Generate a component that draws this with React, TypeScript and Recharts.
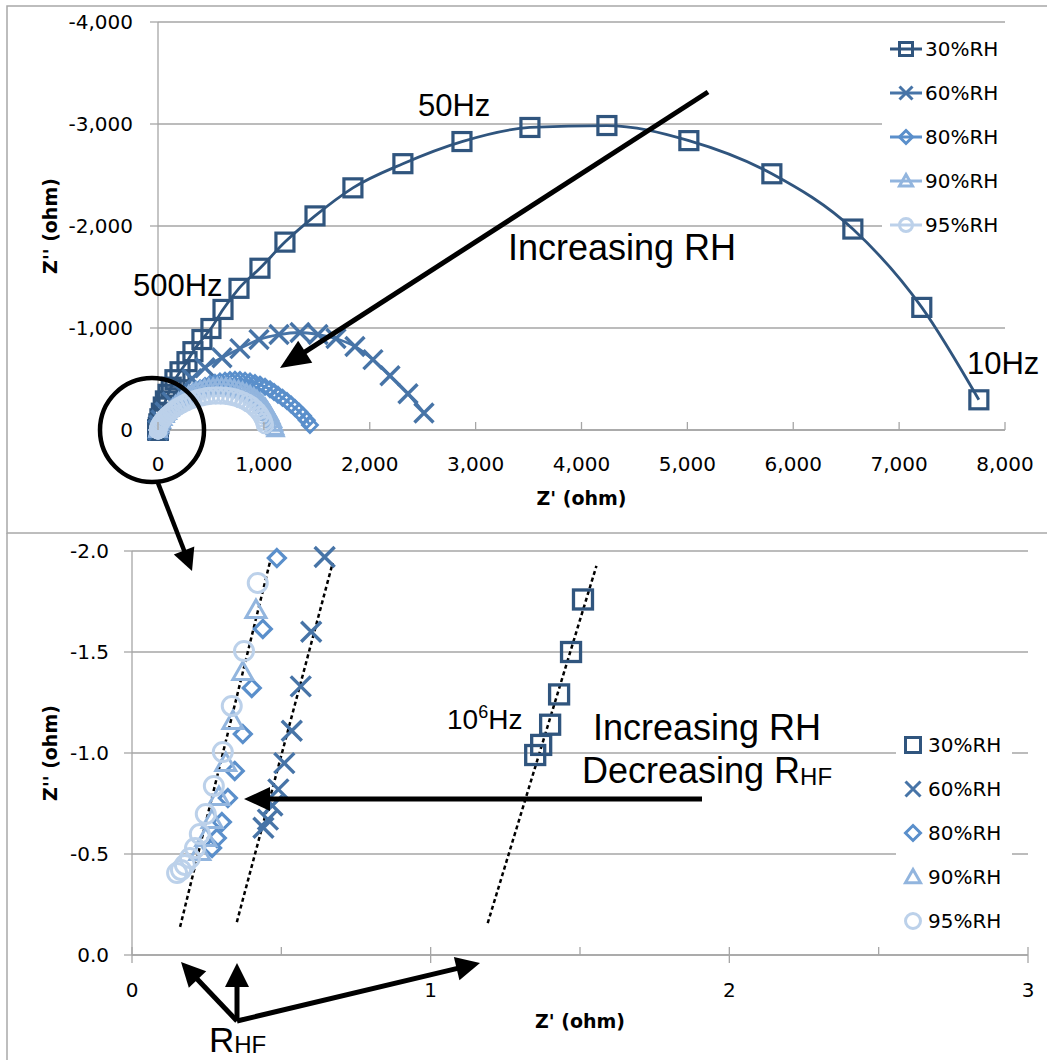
import React from "react";
import {
  ComposedChart,
  ScatterChart,
  Line,
  Scatter,
  XAxis,
  YAxis,
  CartesianGrid,
  ReferenceLine,
  Legend,
} from "recharts";

const AXIS_FONT = "'DejaVu Sans', Verdana, sans-serif";
const NOTE_FONT = "'Liberation Sans', Arial, sans-serif";
const GRID = "#a6a6a6";

// series (Z', Z'') in ohm, high frequency first
const seriesNames = ["30%RH", "60%RH", "80%RH", "90%RH", "95%RH"];
const seriesColors = ["#30557e", "#4774a7", "#5a8fcb", "#92b5de", "#bcd1ea"];
const seriesShapes = ["square", "cross", "diamond", "triangle", "circle"];

const rh30: [number, number][] = [
  [1.35, -0.99], [1.37, -1.04], [1.4, -1.14], [1.43, -1.29], [1.47, -1.5], [1.51, -1.76],
  [3, -25], [8, -60], [18, -110], [32, -165], [50, -225], [70, -285], [95, -350], [125, -420],
  [160, -493], [208, -571], [274, -670], [330, -768], [415, -887], [500, -995], [614, -1182],
  [765, -1389], [963, -1586], [1199, -1842], [1483, -2099], [1841, -2374], [2313, -2611],
  [2871, -2828], [3513, -2966], [4240, -2985], [5014, -2837], [5798, -2512], [6563, -1970],
  [7214, -1202], [7753, -296],
];

const rh60: [number, number][] = [
  [0.44, -0.63], [0.455, -0.67], [0.47, -0.74], [0.49, -0.82], [0.51, -0.95], [0.535, -1.11],
  [0.565, -1.33], [0.6, -1.6], [0.645, -1.97],
  [9, -49], [28, -99], [66, -177], [132, -276], [217, -384], [321, -502], [444, -611],
  [604, -709], [774, -798], [954, -887], [1143, -936], [1341, -956], [1511, -936], [1681, -897],
  [1860, -818], [2030, -690], [2191, -532], [2361, -355], [2512, -167],
];

const rh80: [number, number][] = [
  [0.268, -0.53], [0.284, -0.579], [0.301, -0.658], [0.321, -0.777], [0.344, -0.911],
  [0.371, -1.094], [0.401, -1.322], [0.438, -1.614], [0.485, -1.965],
  [6, -30], [19, -50], [32, -75], [47, -100], [70, -130], [94, -160], [128, -196], [161, -230],
  [194, -263], [227, -295], [265, -326], [302, -355], [350, -384], [397, -410], [444, -431],
  [491, -450], [538, -464], [585, -475], [633, -484], [680, -490], [727, -492], [774, -490],
  [822, -484], [869, -475], [916, -461], [963, -445], [1011, -423], [1058, -400], [1096, -373],
  [1133, -345], [1176, -316], [1218, -285], [1257, -250], [1294, -215], [1333, -180],
  [1369, -140], [1405, -95], [1435, -49],
];

const rh90: [number, number][] = [
  [0.227, -0.51], [0.247, -0.579], [0.268, -0.668], [0.291, -0.782], [0.314, -0.95],
  [0.338, -1.158], [0.371, -1.401], [0.415, -1.708],
  [5, -25], [12, -40], [22, -60], [35, -85], [50, -110], [70, -140], [92, -170], [115, -198],
  [140, -225], [165, -252], [195, -280], [225, -305], [258, -328], [290, -350], [325, -368],
  [360, -385], [400, -398], [440, -410], [480, -418], [520, -424], [560, -427], [600, -428],
  [640, -426], [680, -420], [720, -411], [760, -400], [798, -386], [835, -370], [870, -351],
  [905, -330], [935, -306], [965, -280], [990, -253], [1015, -225], [1035, -193], [1055, -160],
  [1070, -125], [1085, -90], [1095, -55], [1105, -20], [1110, 0],
];

const rh95: [number, number][] = [
  [0.151, -0.406], [0.164, -0.421], [0.177, -0.446], [0.194, -0.48], [0.211, -0.53],
  [0.227, -0.599], [0.247, -0.698], [0.274, -0.837], [0.304, -1.005], [0.334, -1.233],
  [0.375, -1.505], [0.421, -1.842],
  [3, -25], [8, -38], [15, -52], [24, -68], [36, -85], [50, -104], [66, -123], [84, -142],
  [104, -162], [126, -182], [150, -201], [176, -220], [204, -238], [234, -255], [266, -271],
  [300, -286], [336, -300], [374, -312], [414, -322], [456, -330], [500, -335], [546, -338],
  [592, -338], [638, -335], [684, -328], [728, -318], [770, -304], [810, -287], [848, -266],
  [884, -242], [916, -214], [944, -183], [968, -150], [988, -115], [1002, -80], [1010, -50],
];

const topXTicks = [0, 1000, 2000, 3000, 4000, 5000, 6000, 7000, 8000];
const topYTicks = [-4000, -3000, -2000, -1000, 0];
const zoomXTicks = [0, 0.5, 1, 1.5, 2, 2.5, 3];
const zoomYTicks = [-2, -1.5, -1, -0.5, 0];

// dotted guide lines in the zoomed panel (Z', Z'')
const fitLines: [number, number][][] = [
  [[0.161, -0.139], [0.462, -1.946]],
  [[0.351, -0.163], [0.672, -1.941]],
  [[1.191, -0.158], [1.555, -1.926]],
];

const seriesData = [rh30, rh60, rh80, rh90, rh95];
const series = seriesNames.map((name, i) => ({
  name,
  color: seriesColors[i],
  shape: seriesShapes[i],
  rows: seriesData[i].map(([x, y]) => ({ x, y })),
}));

const inZoom = (p: { x: number; y: number }) => p.x >= 0 && p.x <= 3 && p.y >= -2 && p.y <= 0;

const topSize: Record<string, [number, number]> = {
  square: [18, 3.2], cross: [19, 3.4], diamond: [15, 2.8], triangle: [16, 2.6], circle: [16, 2.5],
};
const zoomSize: Record<string, [number, number]> = {
  square: [19, 3.3], cross: [20, 3.4], diamond: [17, 3.2], triangle: [20, 3], circle: [19, 3],
};

function Marker({ shape, cx, cy, color, size, sw }: any) {
  if (cx == null || cy == null || isNaN(cx) || isNaN(cy)) return <g />;
  const h = size / 2;
  const common = { fill: "none", stroke: color, strokeWidth: sw };
  switch (shape) {
    case "square":
      return <rect x={cx - h} y={cy - h} width={size} height={size} {...common} />;
    case "cross":
      return <path d={`M${cx - h},${cy - h}L${cx + h},${cy + h}M${cx - h},${cy + h}L${cx + h},${cy - h}`} {...common} />;
    case "diamond":
      return <path d={`M${cx},${cy - h}L${cx + h},${cy}L${cx},${cy + h}L${cx - h},${cy}Z`} {...common} />;
    case "triangle":
      return <path d={`M${cx},${cy - h}L${cx + h},${cy + h * 0.75}L${cx - h},${cy + h * 0.75}Z`} {...common} />;
    default:
      return <circle cx={cx} cy={cy} r={h} {...common} />;
  }
}

function LegendBox({ withLine }: { withLine: boolean }) {
  return (
    <div style={{ background: "#fff", width: "100%", height: "100%" }}>
      {series.map((s) => (
        <div key={s.name} style={{ display: "flex", alignItems: "center", height: 44 }}>
          <svg width={withLine ? 43 : 32} height={44}>
            {withLine && <line x1={8} y1={22} x2={40} y2={22} stroke={s.color} strokeWidth={3} />}
            <Marker shape={s.shape} cx={withLine ? 24 : 17} cy={22} color={s.color} size={withLine ? 13 : 15} sw={3} />
          </svg>
          <span style={{ fontFamily: AXIS_FONT, fontSize: 20, color: "#000", lineHeight: "44px" }}>{s.name}</span>
        </div>
      ))}
    </div>
  );
}

const fmtThousands = (v: number) => v.toLocaleString("en-US");

function TopXTick({ x, y, payload }: any) {
  return (
    <g>
      <line x1={x} y1={y} x2={x} y2={y - 8} stroke={GRID} strokeWidth={1.3} />
      <text x={x} y={y + 41} textAnchor="middle" fontFamily={AXIS_FONT} fontSize={20} fill="#000">
        {fmtThousands(payload.value)}
      </text>
    </g>
  );
}

function ZoomXTick({ x, y, payload }: any) {
  const major = Number.isInteger(payload.value);
  return (
    <g>
      <line x1={x} y1={y - 8} x2={x} y2={major ? y + 8 : y} stroke={GRID} strokeWidth={1.3} />
      {major && (
        <text x={x} y={y + 42} textAnchor="middle" fontFamily={AXIS_FONT} fontSize={20} fill="#000">
          {payload.value}
        </text>
      )}
    </g>
  );
}

const titleStyle = { textAnchor: "middle", fontWeight: "bold", fontSize: 19, fill: "#000", fontFamily: AXIS_FONT } as any;

function Arrow({ x1, y1, x2, y2, head = 26, half = 12, w = 5 }: any) {
  const len = Math.hypot(x2 - x1, y2 - y1);
  const ux = (x2 - x1) / len;
  const uy = (y2 - y1) / len;
  const bx = x2 - ux * head;
  const by = y2 - uy * head;
  return (
    <g>
      <line x1={x1} y1={y1} x2={bx + ux * 3} y2={by + uy * 3} stroke="#000" strokeWidth={w} />
      <polygon
        points={`${x2},${y2} ${bx - uy * half},${by + ux * half} ${bx + uy * half},${by - ux * half}`}
        fill="#000"
      />
    </g>
  );
}

function Overlay() {
  return (
    <svg width={1047} height={1060} style={{ position: "absolute", left: 0, top: 0, pointerEvents: "none" }}>
      <rect x={7} y={6} width={1045} height={527} fill="none" stroke="#a8a8a8" strokeWidth={1.5} />
      <line x1={7} y1={533} x2={7} y2={1060} stroke="#a8a8a8" strokeWidth={1.5} />

      <g fontFamily={NOTE_FONT} fill="#000">
        <text x={418} y={116} fontSize={31}>50Hz</text>
        <text x={133} y={296} fontSize={31}>500Hz</text>
        <text x={967} y={374} fontSize={31}>10Hz</text>
        <text x={508} y={260} fontSize={36}>Increasing RH</text>
        <text x={447} y={729} fontSize={28}>
          10<tspan dy={-11} fontSize={18}>6</tspan>
          <tspan dy={11} fontSize={28}>Hz</tspan>
        </text>
        <text x={593} y={740} fontSize={36}>Increasing RH</text>
        <text x={582} y={783} fontSize={36}>
          Decreasing R<tspan fontSize={24} dy={2}>HF</tspan>
        </text>
        <text x={209} y={1052} fontSize={35}>
          R<tspan fontSize={24} dy={1}>HF</tspan>
        </text>
      </g>

      <Arrow x1={708} y1={92} x2={280} y2={368} head={30} half={13} />
      <circle cx={152} cy={430} r={52} fill="none" stroke="#000" strokeWidth={4.5} />
      <Arrow x1={158} y1={483} x2={192} y2={571} head={22} half={11} w={4.5} />
      <Arrow x1={702} y1={799} x2={244} y2={799} head={26} half={12} />
      <Arrow x1={237} y1={1021} x2={181} y2={962} head={24} half={12} w={5} />
      <Arrow x1={237} y1={1021} x2={237} y2={963} head={24} half={12} w={5} />
      <Arrow x1={237} y1={1021} x2={480} y2={963} head={24} half={12} w={5} />
    </svg>
  );
}

export default function App() {
  return (
    <div style={{ position: "absolute", left: 0, top: 0, width: 1047, height: 1060, background: "#fff" }}>
      <div style={{ position: "absolute", left: 0, top: 0 }}>
        <ComposedChart width={1047} height={530} margin={{ top: 22, right: 42, bottom: 40, left: 20 }}>
          <CartesianGrid vertical={false} stroke={GRID} strokeWidth={1.3} />
          <XAxis
            type="number"
            dataKey="x"
            domain={[0, 8000]}
            ticks={topXTicks}
            interval={0}
            height={60}
            stroke={GRID}
            strokeWidth={1.3}
            tickLine={false}
            tickSize={0}
            tickMargin={0}
            tick={(p: any) => <TopXTick {...p} />}
            label={{ value: "Z' (ohm)", position: "bottom", offset: 2, style: titleStyle }}
          />
          <YAxis
            type="number"
            dataKey="y"
            domain={[-4000, 0]}
            reversed
            ticks={topYTicks}
            interval={0}
            width={138}
            stroke={GRID}
            strokeWidth={1.3}
            tickSize={8}
            tickMargin={17}
            tick={{ fill: "#000", fontSize: 20, fontFamily: AXIS_FONT }}
            tickFormatter={fmtThousands}
            label={{ value: "Z'' (ohm)", angle: -90, position: "insideLeft", offset: 30, style: titleStyle }}
          />
          {series.map((s) => (
            <Line
              key={s.name}
              name={s.name}
              data={s.rows}
              dataKey="y"
              type="monotone"
              stroke={s.color}
              strokeWidth={2.8}
              activeDot={false}
              isAnimationActive={false}
              dot={(p: any) => (
                <Marker
                  key={`${s.name}-${p.index}`}
                  shape={s.shape}
                  cx={p.cx}
                  cy={p.cy}
                  color={s.color}
                  size={topSize[s.shape][0]}
                  sw={topSize[s.shape][1]}
                />
              )}
            />
          ))}
          <Legend
            layout="horizontal"
            verticalAlign="middle"
            align="center"
            content={() => <LegendBox withLine />}
            wrapperStyle={{ left: 882, top: 27, width: 123, height: 220 }}
          />
        </ComposedChart>
      </div>

      <div style={{ position: "absolute", left: 0, top: 533 }}>
        <ScatterChart width={1047} height={527} margin={{ top: 18, right: 19, bottom: 45, left: 20 }}>
          <CartesianGrid vertical={false} stroke={GRID} strokeWidth={1.3} />
          <XAxis
            type="number"
            dataKey="x"
            domain={[0, 3]}
            ticks={zoomXTicks}
            interval={0}
            height={60}
            stroke={GRID}
            strokeWidth={1.3}
            tickLine={false}
            tickSize={0}
            tickMargin={0}
            tick={(p: any) => <ZoomXTick {...p} />}
            label={{ value: "Z' (ohm)", position: "bottom", offset: 0, style: titleStyle }}
          />
          <YAxis
            type="number"
            dataKey="y"
            domain={[-2, 0]}
            reversed
            ticks={zoomYTicks}
            interval={0}
            width={112}
            stroke={GRID}
            strokeWidth={1.3}
            tickSize={8}
            tickMargin={15}
            tick={{ fill: "#000", fontSize: 20, fontFamily: AXIS_FONT }}
            tickFormatter={(v: number) => v.toFixed(1)}
            label={{ value: "Z'' (ohm)", angle: -90, position: "insideLeft", offset: 30, style: titleStyle }}
          />
          {fitLines.map((seg, i) => (
            <ReferenceLine
              key={i}
              segment={[{ x: seg[0][0], y: seg[0][1] }, { x: seg[1][0], y: seg[1][1] }]}
              stroke="#000"
              strokeWidth={2.5}
              strokeDasharray="4 3"
            />
          ))}
          {series.map((s) => (
            <Scatter
              key={s.name}
              name={s.name}
              data={s.rows.filter(inZoom)}
              isAnimationActive={false}
              shape={(p: any) => (
                <Marker
                  shape={s.shape}
                  cx={p.cx}
                  cy={p.cy}
                  color={s.color}
                  size={zoomSize[s.shape][0]}
                  sw={zoomSize[s.shape][1]}
                />
              )}
            />
          ))}
          <Legend
            layout="horizontal"
            verticalAlign="middle"
            align="center"
            content={() => <LegendBox withLine={false} />}
            wrapperStyle={{ left: 896, top: 190, width: 116, height: 220 }}
          />
        </ScatterChart>
      </div>

      <Overlay />
    </div>
  );
}
